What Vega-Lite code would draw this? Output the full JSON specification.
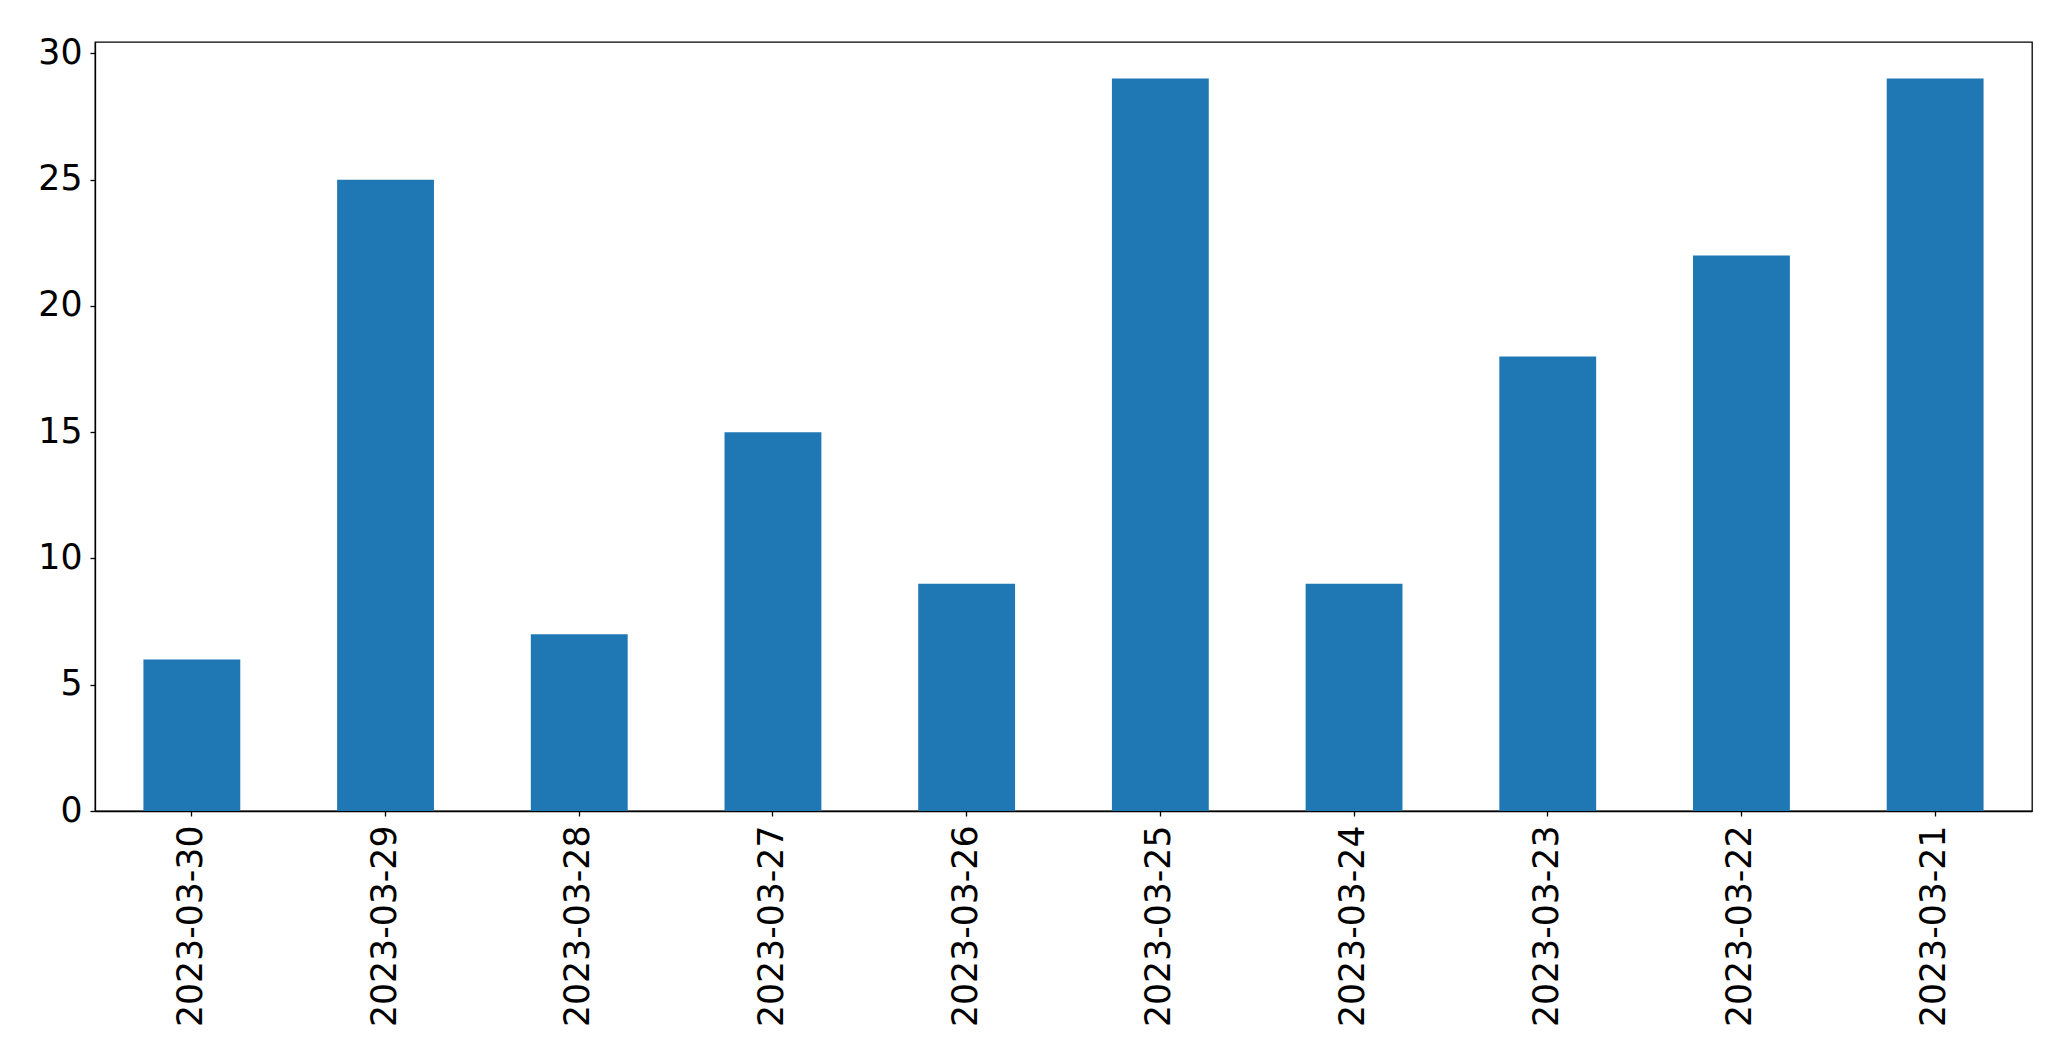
{
  "$schema": "https://vega.github.io/schema/vega-lite/v6.json",
  "width": 1937,
  "height": 769,
  "padding": {"left": 95, "top": 42, "right": 39, "bottom": 252},
  "autosize": {"type": "none"},
  "background": "white",
  "config": {
    "view": {"stroke": "black", "strokeWidth": 1.3},
    "font": "DejaVu Sans",
    "axis": {
      "labelFont": "DejaVu Sans",
      "labelFontSize": 34.7,
      "labelColor": "black",
      "labelLimit": 0,
      "domainColor": "black",
      "domainWidth": 1.3,
      "tickColor": "black",
      "tickWidth": 1.3,
      "tickSize": 5,
      "grid": false,
      "title": null
    }
  },
  "data": {
    "values": [
      {"date": "2023-03-30", "count": 6},
      {"date": "2023-03-29", "count": 25},
      {"date": "2023-03-28", "count": 7},
      {"date": "2023-03-27", "count": 15},
      {"date": "2023-03-26", "count": 9},
      {"date": "2023-03-25", "count": 29},
      {"date": "2023-03-24", "count": 9},
      {"date": "2023-03-23", "count": 18},
      {"date": "2023-03-22", "count": 22},
      {"date": "2023-03-21", "count": 29}
    ]
  },
  "mark": {"type": "bar", "color": "#1f77b4"},
  "encoding": {
    "x": {
      "field": "date",
      "type": "nominal",
      "sort": null,
      "scale": {"paddingInner": 0.5, "paddingOuter": 0.25},
      "axis": {"labelAngle": -90, "labelPadding": 9}
    },
    "y": {
      "field": "count",
      "type": "quantitative",
      "scale": {"domain": [0, 30.45], "nice": false, "zero": true},
      "axis": {"values": [0, 5, 10, 15, 20, 25, 30], "labelPadding": 8}
    }
  }
}
